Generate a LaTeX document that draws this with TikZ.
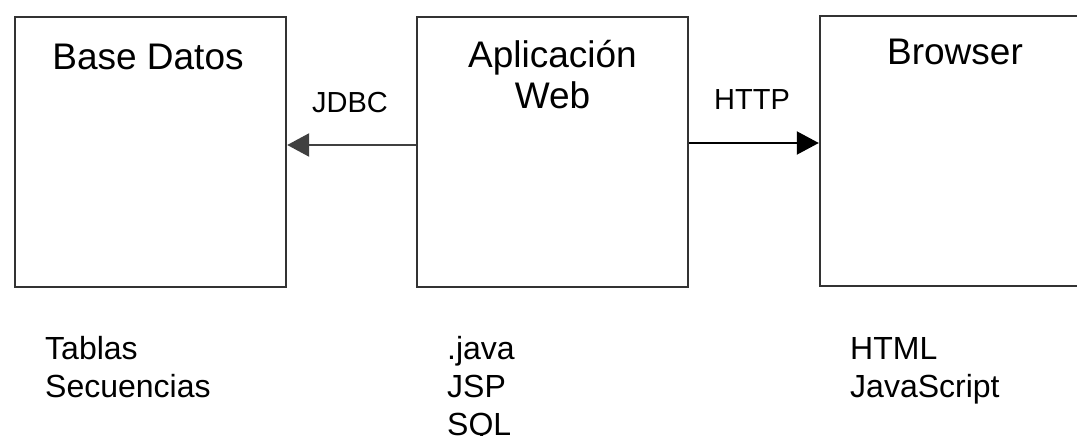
\documentclass[tikz,border=0pt]{standalone}
\usepackage{fontspec}
\setmainfont{Liberation Sans}
\usetikzlibrary{arrows.meta}

\tikzset{
  tier/.style={draw=black!80, line width=2.4pt, fill=white,
    minimum width=271pt, minimum height=270pt, inner sep=0pt},
  title/.style={anchor=base, inner sep=0pt, align=center,
    font=\fontsize{37}{41}\selectfont},
  proto/.style={anchor=base, inner sep=0pt, font=\fontsize{29}{33}\selectfont},
  items/.style={anchor=base west, inner sep=0pt, align=left,
    font=\fontsize{32}{38}\selectfont},
  link/.style={line width=2.6pt, -{Triangle[length=22pt, width=23pt]}},
}

\begin{document}
\begin{tikzpicture}[x=1pt, y=-1pt]
  \useasboundingbox (0,0) rectangle (1077,436);

  % the three tiers
  \node[tier] (db)  at (150.5,152) {};
  \node[tier] (app) at (552.5,152) {};
  \node[tier] (web) at (955.5,151) {};

  % tier titles (base anchor sits on the last line)
  \node[title] (dbT)  at (148,70)   {Base Datos};
  \node[title] (appT) at (552.5,108) {Aplicación\\Web};
  \node[title] (webT) at (955,65)   {Browser};

  % protocols between tiers
  \coordinate (appL) at (app.west |- 0,145);
  \coordinate (dbR)  at (db.east |- 0,145);
  \coordinate (appR) at (app.east |- 0,143);
  \coordinate (webL) at (web.west |- 0,143);
  \draw[link, draw=black!75, fill=black] (appL) -- (dbR);
  \draw[link, line width=2pt, draw=black] (appR) -- (webL);
  \node[proto] (jdbc) at (350,112) {JDBC};
  \node[proto] (http) at (752,110) {HTTP};

  % contents of each tier
  \node[items] (dbI)  at (45,397)  {Tablas\\Secuencias};
  \node[items] (appI) at (447,435) {.java\\JSP\\SQL};
  \node[items] (webI) at (850,397) {HTML\\JavaScript};
\end{tikzpicture}
\end{document}
